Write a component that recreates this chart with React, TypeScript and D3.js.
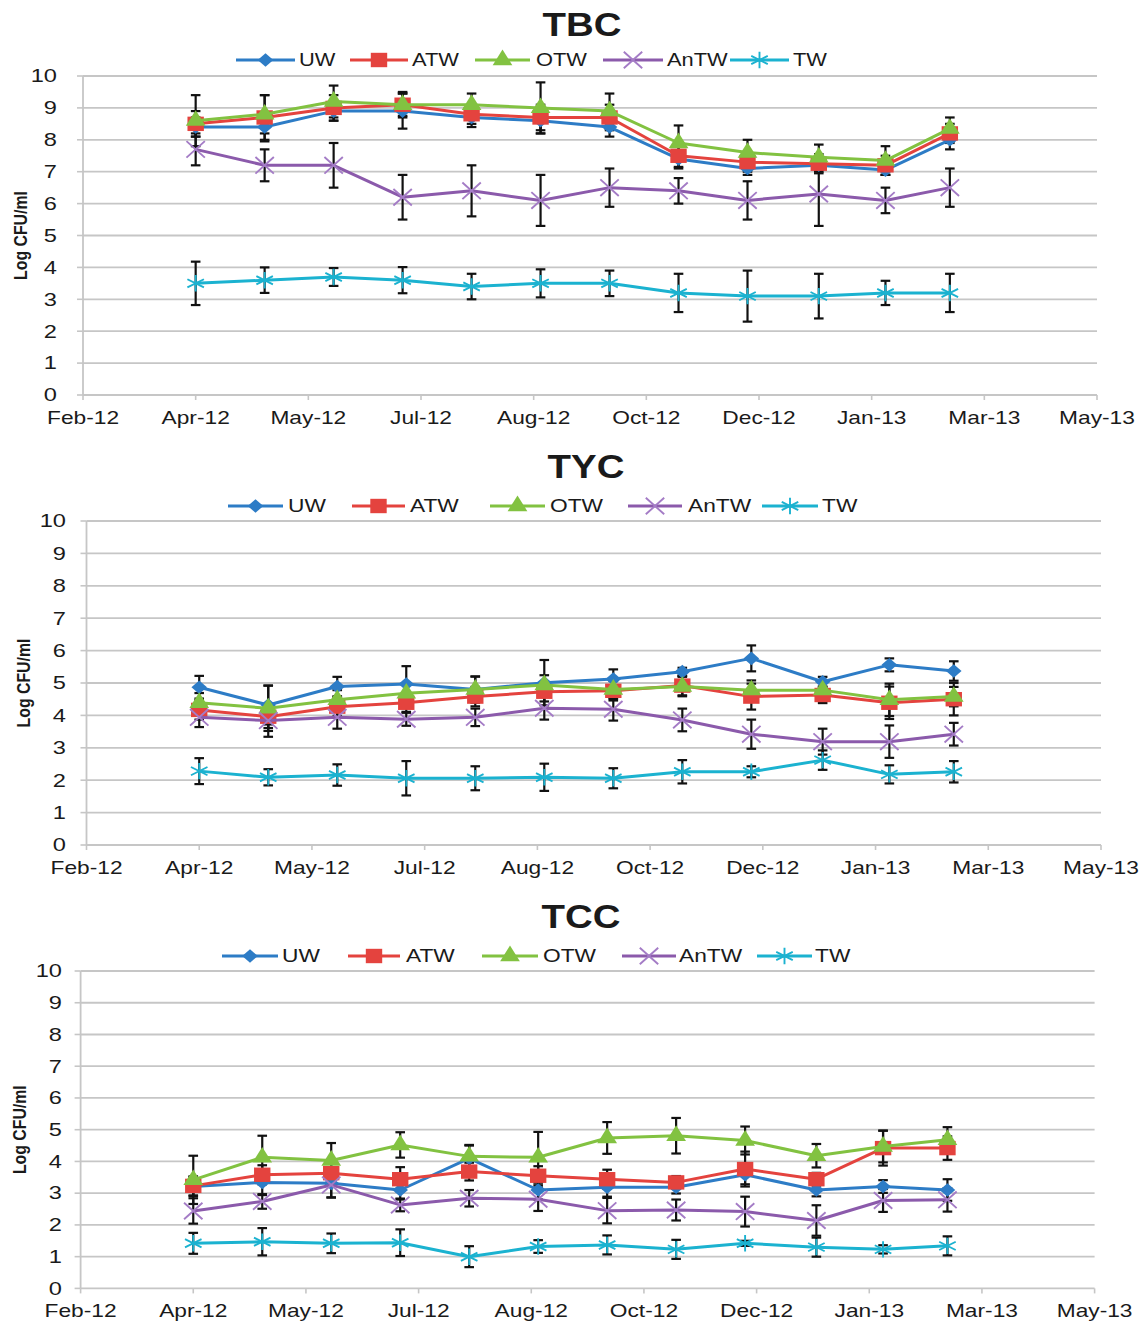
import React from "react";
import * as d3 from "d3";

// ---------- data ----------
const seriesNames = ["UW", "ATW", "OTW", "AnTW", "TW"];
const panelTitles = ["TBC", "TYC", "TCC"];
const yAxisTitle = "Log CFU/ml";
const sampleDates = [
  "2012-04-04", "2012-05-04", "2012-06-03", "2012-07-03", "2012-08-02", "2012-09-01",
  "2012-10-01", "2012-10-31", "2012-11-30", "2012-12-31", "2013-01-29", "2013-02-26",
];
const xTickLabels = ["Feb-12", "Apr-12", "May-12", "Jul-12", "Aug-12", "Oct-12", "Dec-12", "Jan-13", "Mar-13", "May-13"];
const yTickValues = [0, 1, 2, 3, 4, 5, 6, 7, 8, 9, 10];
const axisStartDate = "2012-02-15";
const tickStepDays = 49;

// TBC
const tbcUW = [8.4, 8.4, 8.9, 8.9, 8.7, 8.6, 8.4, 7.4, 7.1, 7.2, 7.05, 8.0];
const tbcUWErr = [0.3, 0.45, 0.3, 0.55, 0.3, 0.4, 0.3, 0.25, 0.2, 0.2, 0.15, 0.3];
const tbcATW = [8.5, 8.7, 9.0, 9.1, 8.8, 8.7, 8.7, 7.5, 7.3, 7.25, 7.2, 8.2];
const tbcATWErr = [0.4, 0.7, 0.4, 0.4, 0.3, 0.4, 0.4, 0.4, 0.3, 0.3, 0.3, 0.3];
const tbcOTW = [8.6, 8.8, 9.2, 9.1, 9.1, 9.0, 8.9, 7.9, 7.6, 7.45, 7.35, 8.35];
const tbcOTWErr = [0.8, 0.6, 0.5, 0.35, 0.35, 0.8, 0.55, 0.55, 0.4, 0.4, 0.45, 0.35];
const tbcAnTW = [7.7, 7.2, 7.2, 6.2, 6.4, 6.1, 6.5, 6.4, 6.1, 6.3, 6.1, 6.5];
const tbcAnTWErr = [0.5, 0.5, 0.7, 0.7, 0.8, 0.8, 0.6, 0.4, 0.6, 1.0, 0.4, 0.6];
const tbcTW = [3.5, 3.6, 3.7, 3.6, 3.4, 3.5, 3.5, 3.2, 3.1, 3.1, 3.2, 3.2];
const tbcTWErr = [0.68, 0.4, 0.28, 0.41, 0.4, 0.44, 0.4, 0.6, 0.8, 0.7, 0.38, 0.6];

// TYC
const tycUW = [4.87, 4.32, 4.89, 4.97, 4.8, 5.01, 5.12, 5.35, 5.76, 5.04, 5.56, 5.37];
const tycUWErr = [0.35, 0.6, 0.3, 0.55, 0.4, 0.7, 0.3, 0.12, 0.4, 0.15, 0.2, 0.3];
const tycATW = [4.17, 3.96, 4.27, 4.39, 4.58, 4.73, 4.76, 4.92, 4.58, 4.63, 4.39, 4.5];
const tycATWErr = [0.3, 0.35, 0.3, 0.28, 0.3, 0.3, 0.3, 0.3, 0.4, 0.25, 0.5, 0.5];
const tycOTW = [4.39, 4.22, 4.48, 4.68, 4.8, 4.94, 4.8, 4.89, 4.78, 4.78, 4.48, 4.58];
const tycOTWErr = [0.3, 0.7, 0.3, 0.3, 0.4, 0.3, 0.3, 0.3, 0.3, 0.3, 0.5, 0.3];
const tycAnTW = [3.94, 3.84, 3.94, 3.88, 3.94, 4.22, 4.19, 3.86, 3.42, 3.19, 3.19, 3.42];
const tycAnTWErr = [0.3, 0.5, 0.35, 0.2, 0.27, 0.35, 0.35, 0.35, 0.45, 0.4, 0.5, 0.35];
const tycTW = [2.28, 2.09, 2.16, 2.06, 2.06, 2.09, 2.06, 2.26, 2.26, 2.62, 2.18, 2.26];
const tycTWErr = [0.4, 0.25, 0.33, 0.53, 0.37, 0.42, 0.31, 0.36, 0.17, 0.3, 0.28, 0.33];

// TCC
const tccUW = [3.21, 3.34, 3.31, 3.1, 4.1, 3.1, 3.19, 3.19, 3.58, 3.1, 3.21, 3.1];
const tccUWErr = [0.3, 0.4, 0.44, 0.3, 0.4, 0.3, 0.3, 0.2, 0.3, 0.2, 0.2, 0.34];
const tccATW = [3.23, 3.58, 3.63, 3.44, 3.68, 3.55, 3.44, 3.34, 3.76, 3.44, 4.42, 4.42];
const tccATWErr = [0.3, 0.3, 0.3, 0.38, 0.28, 0.3, 0.3, 0.2, 0.55, 0.2, 0.55, 0.37];
const tccOTW = [3.42, 4.13, 4.03, 4.52, 4.16, 4.13, 4.74, 4.81, 4.66, 4.18, 4.47, 4.68];
const tccOTWErr = [0.76, 0.68, 0.55, 0.4, 0.36, 0.8, 0.5, 0.56, 0.44, 0.37, 0.5, 0.4];
const tccAnTW = [2.44, 2.74, 3.26, 2.63, 2.84, 2.81, 2.45, 2.47, 2.42, 2.14, 2.77, 2.79];
const tccAnTWErr = [0.4, 0.23, 0.4, 0.2, 0.26, 0.37, 0.4, 0.33, 0.47, 0.48, 0.36, 0.37];
const tccTW = [1.42, 1.47, 1.42, 1.44, 1.0, 1.32, 1.37, 1.23, 1.42, 1.3, 1.23, 1.34];
const tccTWErr = [0.33, 0.43, 0.31, 0.42, 0.33, 0.2, 0.3, 0.3, 0.08, 0.3, 0.13, 0.3];

const panelValues = [
  [tbcUW, tbcATW, tbcOTW, tbcAnTW, tbcTW],
  [tycUW, tycATW, tycOTW, tycAnTW, tycTW],
  [tccUW, tccATW, tccOTW, tccAnTW, tccTW],
];
const panelErrors = [
  [tbcUWErr, tbcATWErr, tbcOTWErr, tbcAnTWErr, tbcTWErr],
  [tycUWErr, tycATWErr, tycOTWErr, tycAnTWErr, tycTWErr],
  [tccUWErr, tccATWErr, tccOTWErr, tccAnTWErr, tccTWErr],
];

// ---------- layout / style ----------
const W = 1147;
const H = 1321;
const FONT = "'Liberation Sans', Arial, sans-serif";
const COLORS = ["#2d7cc6", "#e4433e", "#82c241", "#8b5aab", "#1bb2d0"];
const MARKER_COLORS = ["#2d7cc6", "#e4433e", "#82c241", "#a47cc6", "#1bb2d0"];
const GRID = "#c6c6c6";

const LAYOUTS = [
  {
    left: 83, right: 1097, top: 76, bottom: 395, titleX: 582, titleY: 36, legendY: 60,
    legend: [[236, 295, 299], [350, 408, 412], [475, 530, 536], [603, 663, 667], [730, 789, 793]],
    yLabelRight: 57, yTitleX: 21, legendSx: 1.25,
  },
  {
    left: 86.5, right: 1101, top: 521, bottom: 845, titleX: 586, titleY: 478, legendY: 506,
    legend: [[228, 283, 288], [352, 405, 410], [490, 545, 550], [628, 682, 688], [762, 818, 822]],
    yLabelRight: 66, yTitleX: 24, legendSx: 1.3,
  },
  {
    left: 80.6, right: 1094.6, top: 971, bottom: 1288.4, titleX: 581, titleY: 928, legendY: 956,
    legend: [[222, 278, 282], [348, 400, 406], [482, 538, 543], [622, 676, 679], [757, 812, 815]],
    yLabelRight: 62, yTitleX: 20, legendSx: 1.3,
  },
];

const parse = d3.timeParse("%Y-%m-%d");

// marker shapes from d3 symbols, scaled to the stretched look
const MARKERS = [
  { d: d3.symbol().type(d3.symbolDiamond).size(2 * Math.sqrt(1 / 3))() as string, sx: 13.5, sy: 6.8, stroke: false },
  { d: d3.symbol().type(d3.symbolSquare).size(4)() as string, sx: 8.2, sy: 7.2, stroke: false },
  { d: d3.symbol().type(d3.symbolTriangle).size(3 * Math.sqrt(3))() as string, sx: 5.7, sy: 5.2, stroke: false },
  { d: d3.symbol().type(d3.symbolTimes).size(100)() as string, sx: 1.5, sy: 1.35, stroke: true },
  { d: d3.symbol().type(d3.symbolAsterisk).size(100)() as string, sx: 1.6, sy: 1.38, stroke: true },
];

function Marker({ kind, x, y }: { kind: number; x: number; y: number }) {
  const m = MARKERS[kind];
  const c = MARKER_COLORS[kind];
  return (
    <path
      d={m.d}
      transform={`translate(${x},${y}) scale(${m.sx},${m.sy})`}
      fill={m.stroke ? "none" : c}
      stroke={m.stroke ? c : "none"}
      strokeWidth={m.stroke ? 1.9 : 0}
      vectorEffect="non-scaling-stroke"
    />
  );
}

function SText({ x, y, sx = 1, anchor = "middle", size, weight = "normal", children, dy = "0" }: any) {
  return (
    <text
      transform={`translate(${x},${y}) scale(${sx},1)`}
      textAnchor={anchor}
      fontSize={size}
      fontWeight={weight}
      fontFamily={FONT}
      fill="#1a1a1a"
      dy={dy}
    >
      {children}
    </text>
  );
}

function Panel({ idx }: { idx: number }) {
  const L = LAYOUTS[idx];
  const start = parse(axisStartDate) as Date;
  const end = d3.timeDay.offset(start, tickStepDays * (xTickLabels.length - 1));
  const x = d3.scaleTime().domain([start, end]).range([L.left, L.right]);
  const y = d3.scaleLinear().domain([0, 10]).range([L.bottom, L.top]);
  const dates = sampleDates.map((s) => parse(s) as Date);
  const ticks = xTickLabels.map((_, i) => d3.timeDay.offset(start, tickStepDays * i));
  const line = d3
    .line<number>()
    .x((_, i) => x(dates[i]))
    .y((v) => y(v));
  const values = panelValues[idx];
  const errs = panelErrors[idx];
  const cap = 4.8;

  return (
    <g>
      {/* gridlines */}
      {yTickValues.map((v) => (
        <line key={"g" + v} x1={L.left} x2={L.right} y1={y(v)} y2={y(v)} stroke={GRID} strokeWidth={1.8} />
      ))}
      {/* y axis */}
      <line x1={L.left} x2={L.left} y1={y(0)} y2={y(10)} stroke={GRID} strokeWidth={1.8} />
      {yTickValues.map((v) => (
        <line key={"yt" + v} x1={L.left - 6} x2={L.left} y1={y(v)} y2={y(v)} stroke={GRID} strokeWidth={1.6} />
      ))}
      {ticks.map((t, i) => (
        <line key={"xt" + i} x1={x(t)} x2={x(t)} y1={y(0)} y2={y(0) + 5} stroke={GRID} strokeWidth={1.6} />
      ))}
      {/* y tick labels */}
      {yTickValues.map((v) => (
        <SText key={"yl" + v} x={L.yLabelRight} y={y(v)} dy="0.36em" anchor="end" size={17.5} sx={1.35}>
          {v}
        </SText>
      ))}
      {/* x tick labels */}
      {ticks.map((t, i) => (
        <SText key={"xl" + i} x={x(t)} y={y(0) + 29} size={17.5} sx={1.3}>
          {xTickLabels[i]}
        </SText>
      ))}
      {/* y axis title */}
      <text
        transform={`translate(${L.yTitleX},${(y(0) + y(10)) / 2}) rotate(-90) scale(0.88,1)`}
        textAnchor="middle"
        dy="0.35em"
        fontSize={18}
        fontWeight="bold"
        fontFamily={FONT}
        fill="#1a1a1a"
      >
        {yAxisTitle}
      </text>
      {/* title */}
      <SText x={L.titleX} y={L.titleY} size={34} weight="bold" sx={1.13}>
        {panelTitles[idx]}
      </SText>
      {/* error bars */}
      {values.map((vals, s) =>
        vals.map((v, i) => {
          const px = x(dates[i]);
          const e = errs[s][i];
          const y1 = y(v + e);
          const y2 = y(v - e);
          return (
            <g key={`e${s}-${i}`} stroke="#111" strokeWidth={2.2}>
              <line x1={px} x2={px} y1={y1} y2={y2} />
              <line x1={px - cap} x2={px + cap} y1={y1} y2={y1} />
              <line x1={px - cap} x2={px + cap} y1={y2} y2={y2} />
            </g>
          );
        })
      )}
      {/* series */}
      {values.map((vals, s) => (
        <g key={"s" + s}>
          <path d={line(vals) as string} fill="none" stroke={COLORS[s]} strokeWidth={3} strokeLinejoin="round" />
          {vals.map((v, i) => (
            <Marker key={i} kind={s} x={x(dates[i])} y={y(v)} />
          ))}
        </g>
      ))}
      {/* legend */}
      {seriesNames.map((name, s) => {
        const [x0, x1, tx] = L.legend[s];
        return (
          <g key={"lg" + s}>
            <line x1={x0} x2={x1} y1={L.legendY} y2={L.legendY} stroke={COLORS[s]} strokeWidth={3} />
            <Marker kind={s} x={(x0 + x1) / 2} y={L.legendY} />
            <SText x={tx} y={L.legendY} dy="0.36em" anchor="start" size={17.5} sx={L.legendSx}>
              {name}
            </SText>
          </g>
        );
      })}
    </g>
  );
}

export default function App() {
  return (
    <svg
      width={W}
      height={H}
      viewBox={`0 0 ${W} ${H}`}
      style={{ position: "absolute", left: 0, top: 0, display: "block", background: "#fff" }}
    >
      <rect x={0} y={0} width={W} height={H} fill="#fff" />
      {panelTitles.map((_, i) => (
        <Panel key={i} idx={i} />
      ))}
    </svg>
  );
}
